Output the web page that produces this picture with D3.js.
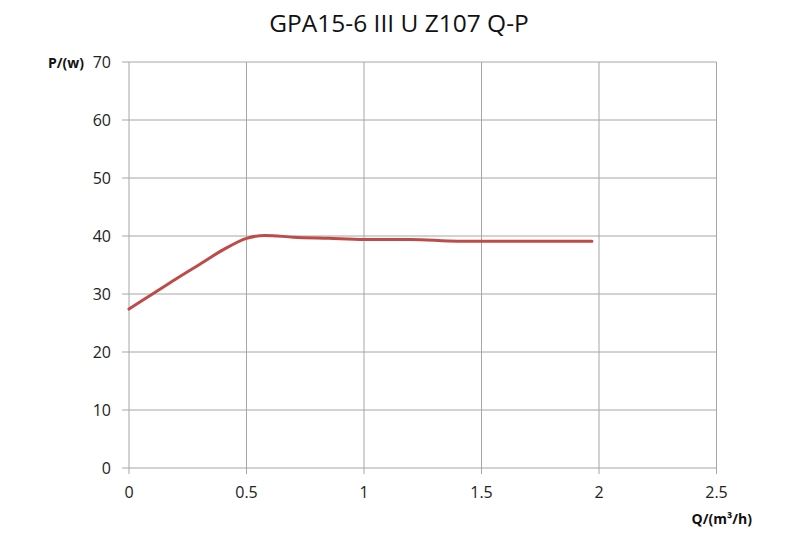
<!DOCTYPE html>
<html><head><meta charset="utf-8">
<script src="https://cdn.jsdelivr.net/npm/d3@7"></script>
<style>body{margin:0;background:#fff}</style>
</head><body><svg id="c" width="799" height="542"></svg>
<script>
const title = "GPA15-6 III U Z107 Q-P";
const qValues = [0, 0.1, 0.2, 0.3, 0.4, 0.5, 0.58, 0.7, 0.85, 1.0, 1.2, 1.4, 1.6, 1.8, 1.97];
const pValues = [27.4, 30.0, 32.6, 35.1, 37.6, 39.6, 40.1, 39.8, 39.6, 39.4, 39.4, 39.1, 39.1, 39.1, 39.1];
const xTicks = [0, 0.5, 1, 1.5, 2, 2.5];
const yTicks = [0, 10, 20, 30, 40, 50, 60, 70];
const xTitle = "Q/(m³/h)";
const yTitle = "P/(w)";

const svg = d3.select("#c");
const font = "Open Sans, Liberation Sans, sans-serif";
const x = d3.scaleLinear().domain([0, 2.5]).range([129, 716.5]);
const y = d3.scaleLinear().domain([0, 70]).range([468, 62]);
const grid = "#a6a6a6";

svg.append("g").selectAll("line").data(yTicks).join("line")
  .attr("x1", 122).attr("x2", x(2.5)).attr("y1", d => y(d)).attr("y2", d => y(d))
  .attr("stroke", grid).attr("stroke-width", 1);
svg.append("g").selectAll("line").data(xTicks).join("line")
  .attr("x1", d => x(d)).attr("x2", d => x(d)).attr("y1", y(70)).attr("y2", y(0) + 6)
  .attr("stroke", grid).attr("stroke-width", 1);

svg.append("g").selectAll("text").data(yTicks).join("text")
  .attr("x", 111).attr("y", d => y(d)).attr("dy", "0.35em").attr("text-anchor", "end")
  .attr("font-family", font).attr("font-size", 16).attr("fill", "#222").text(d => d);
svg.append("g").selectAll("text").data(xTicks).join("text")
  .attr("x", d => x(d)).attr("y", 492).attr("dy", "0.35em").attr("text-anchor", "middle")
  .attr("font-family", font).attr("font-size", 16).attr("fill", "#222").text(d => d);

const line = d3.line().x((d, i) => x(qValues[i])).y(d => y(d)).curve(d3.curveMonotoneX);
svg.append("path").datum(pValues).attr("d", line).attr("fill", "none")
  .attr("stroke", "#be4b48").attr("stroke-width", 3).attr("stroke-linecap", "round");

svg.append("text").attr("x", 399).attr("y", 23).attr("dy", "0.35em").attr("text-anchor", "middle")
  .attr("font-family", font).attr("font-size", 24.5).attr("fill", "#111").text(title);
svg.append("text").attr("x", 84).attr("y", 63).attr("dy", "0.35em").attr("text-anchor", "end")
  .attr("font-family", font).attr("font-size", 14).attr("font-weight", "bold").attr("fill", "#111").text(yTitle);
svg.append("text").attr("x", 752).attr("y", 519).attr("dy", "0.35em").attr("text-anchor", "end")
  .attr("font-family", font).attr("font-size", 14).attr("font-weight", "bold").attr("fill", "#111").text(xTitle);
</script></body></html>
